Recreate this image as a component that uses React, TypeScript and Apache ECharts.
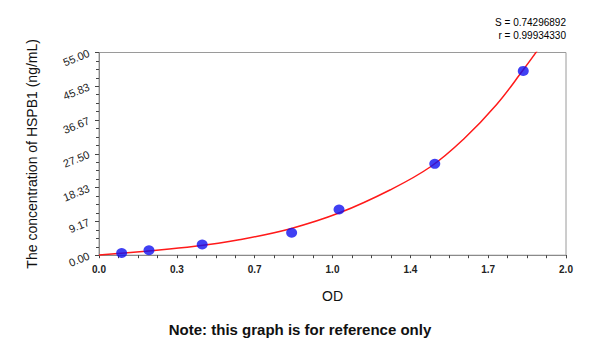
import React, { useEffect, useRef } from "react";
import * as echarts from "echarts";

const xTickLabels = ["0.0", "0.3", "0.7", "1.0", "1.4", "1.7", "2.0"];
const yTickLabels = ["0.00", "9.17", "18.33", "27.50", "36.67", "45.83", "55.00"];

// Standards (OD, concentration)
const stdOD = [0.097, 0.214, 0.442, 0.825, 1.028, 1.438, 1.817];
const stdConc = [0.6, 1.35, 2.9, 6.1, 12.4, 24.8, 50.0];

// Fitted curve
const fitOD = [0, 0.2, 0.411, 0.6, 0.82, 1.03, 1.246, 1.42, 1.56, 1.703, 1.817, 1.877];
const fitConc = [0.05, 1.1, 2.4, 4.2, 7.2, 11.5, 17.7, 24.0, 31.4, 40.9, 50.3, 55.5];

const statsLines = ["S = 0.74296892", "r = 0.99934330"];

export default function App() {
  const ref = useRef<HTMLDivElement>(null);
  useEffect(() => {
    if (!ref.current) return;
    const chart = echarts.init(ref.current, null, { renderer: "svg" });
    const font = "'Liberation Sans', Arial, sans-serif";
    chart.setOption({
      animation: false,
      backgroundColor: "#ffffff",
      textStyle: { fontFamily: font },
      grid: {
        left: 99,
        right: 34,
        top: 52.5,
        bottom: 89.8,
        show: true,
        borderColor: "#9a9a9a",
        borderWidth: 1,
      },
      graphic: [
        {
          type: "text",
          right: 34,
          top: 16,
          style: {
            text: statsLines.join("\n"),
            font: `10px ${font}`,
            fill: "#000",
            textAlign: "right",
            lineHeight: 13,
          },
        },
        {
          type: "text",
          left: "center",
          top: 322,
          style: {
            text: "Note: this graph is for reference only",
            font: `bold 15px ${font}`,
            fill: "#111",
          },
        },
      ],
      xAxis: {
        type: "value",
        min: 0,
        max: 2,
        interval: 1 / 3,
        name: "OD",
        nameLocation: "middle",
        nameGap: 34,
        nameTextStyle: { fontSize: 14, color: "#111", fontFamily: font },
        axisLine: { show: true, lineStyle: { color: "#8a8a8a", width: 1 } },
        axisTick: { show: true, length: 3, lineStyle: { color: "#444" } },
        minorTick: { show: true, splitNumber: 4, length: 3, lineStyle: { color: "#444" } },
        splitLine: { show: false },
        axisLabel: {
          fontSize: 10,
          fontWeight: "bold",
          color: "#222",
          margin: 9,
          formatter: (v: number) => xTickLabels[Math.round(v * 3)] ?? "",
        },
      },
      yAxis: {
        type: "value",
        min: 0,
        max: 55,
        interval: 55 / 6,
        name: "The concentration of HSPB1 (ng/mL)",
        nameLocation: "middle",
        nameGap: 60,
        nameTextStyle: { fontSize: 14, color: "#111", fontFamily: font },
        axisLine: { show: true, lineStyle: { color: "#8a8a8a", width: 1 } },
        axisTick: { show: true, length: 4, lineStyle: { color: "#444" } },
        minorTick: { show: true, splitNumber: 4, length: 3, lineStyle: { color: "#444" } },
        splitLine: { show: false },
        axisLabel: {
          fontSize: 11,
          color: "#222",
          rotate: 22,
          margin: 10,
          formatter: (v: number) => yTickLabels[Math.round(v / (55 / 6))] ?? "",
        },
      },
      series: [
        {
          type: "line",
          data: fitOD.map((x, i) => [x, fitConc[i]]),
          smooth: 0.4,
          showSymbol: false,
          symbol: "none",
          clip: true,
          lineStyle: { color: "#ff1a1a", width: 1.5 },
          z: 2,
        },
        {
          type: "scatter",
          data: stdOD.map((x, i) => [x, stdConc[i]]),
          symbol: "circle",
          symbolSize: [11, 10],
          itemStyle: { color: "#1010f0" },
          z: 3,
        },
      ],
    });
    return () => chart.dispose();
  }, []);
  return (
    <div
      ref={ref}
      style={{ position: "absolute", left: 0, top: 0, width: 600, height: 345 }}
    />
  );
}
